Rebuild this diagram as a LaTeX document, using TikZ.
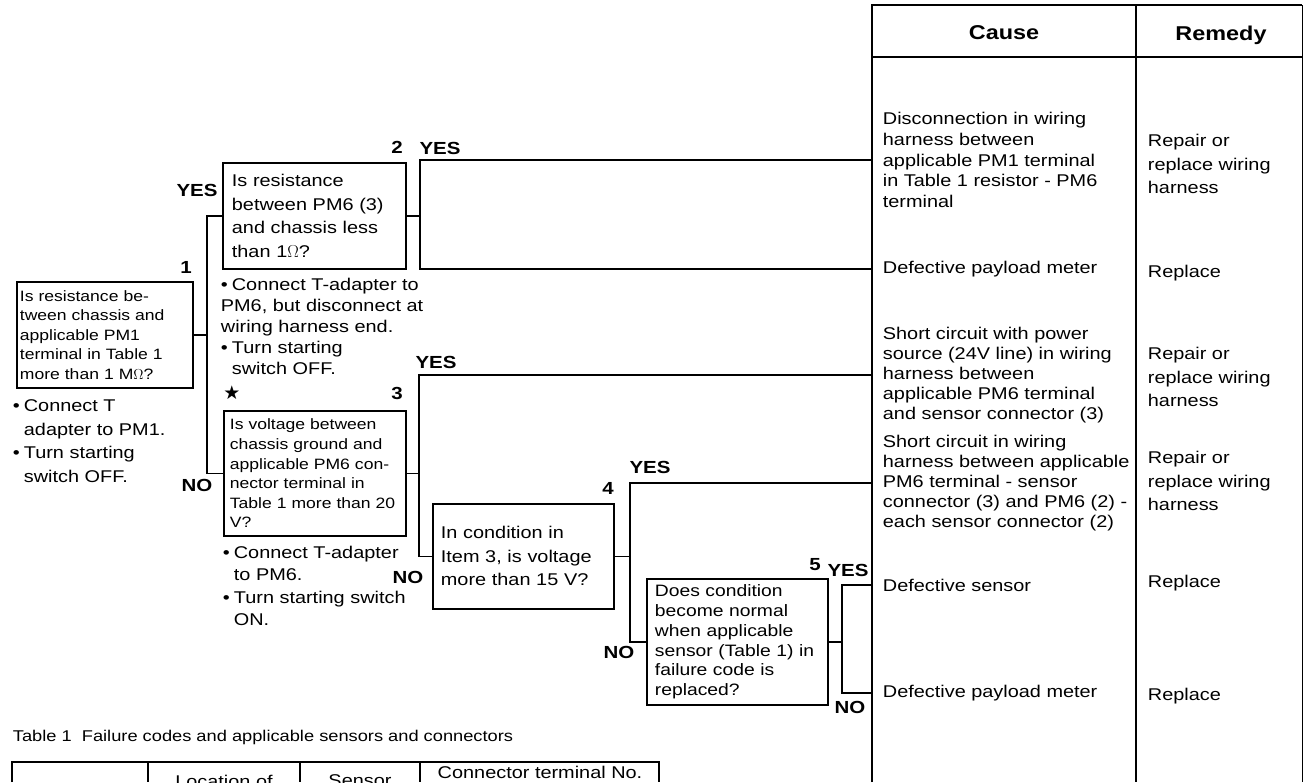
\documentclass[tikz,border=0pt]{standalone}
\usepackage{fontspec}
\setmainfont[FakeStretch=1.17]{Liberation Sans}
\newfontfamily\symbolfont{DejaVu Sans}
\usetikzlibrary{positioning}

% bullet of a hint line, and the indent of a wrapped hint line
\newcommand{\bitem}{\makebox[11pt][l]{\textbullet}}
\newcommand{\bcont}{\hspace*{11pt}}

\tikzset{
    check/.style={draw, anchor=north west, align=left, inner ysep=0pt, font=\fontsize{17}{23.5}\selectfont}, % the question boxes
    fine/.style={font=\fontsize{15}{19.6}\selectfont}, % boxes with the longer questions
    hint/.style={anchor=west, inner sep=0pt, align=left, font=\fontsize{17}{21.5}\selectfont}, % hints below the boxes
    cause/.style={anchor=west, inner xsep=10pt, inner ysep=0pt, align=left, font=\fontsize{17}{20.8}\selectfont}, % first column of the table
    remedy/.style={anchor=west, inner sep=0pt, align=left, font=\fontsize{17}{23.5}\selectfont}, % second column
    tag/.style={inner sep=0pt, font=\fontsize{17.5}{17.5}\selectfont\bfseries}, % YES, NO and step numbers
    head/.style={inner sep=0pt, font=\fontsize{20}{20}\selectfont\bfseries}, % column titles
}

\begin{document}
\begin{tikzpicture}[x=1pt, y=-1pt, line width=1.8pt]
\useasboundingbox (0,0) rectangle (1304,782);

% cause / remedy table
\draw (872,782) -- (872,5) -- (1302,5);
\draw (1136,5) -- (1136,782);
\draw[line width=1.3pt] (872,57) -- (1302,57);
\draw[line width=0.8pt] (1302,5) -- (1302,782);
\node[head] (hc) at (1004,33) {Cause};
\node[head] (hr) at (1221,35) {Remedy};

\node[cause] (c1) at (872,160) {Disconnection in wiring\\harness between\\applicable PM1 terminal\\in Table 1 resistor - PM6\\terminal};
\node[cause] (c2) at (872,269) {Defective payload meter};
\node[cause, font=\fontsize{17}{19.8}\selectfont] (c3) at (872,375) {Short circuit with power\\source (24V line) in wiring\\harness between\\applicable PM6 terminal\\and sensor connector (3)};
\node[cause, font=\fontsize{17}{19.8}\selectfont] (c4) at (872,483) {Short circuit in wiring\\harness between applicable\\PM6 terminal - sensor\\connector (3) and PM6 (2) -\\each sensor connector (2)};
\node[cause] (c5) at (872,585) {Defective sensor};
\node[cause] (c6) at (872,693) {Defective payload meter};

\node[remedy] (r1) at (1147,164) {Repair or\\replace wiring\\harness};
\node[remedy] (r2) at (1147,273) {Replace};
\node[remedy] (r3) at (1147,377) {Repair or\\replace wiring\\harness};
\node[remedy] (r4) at (1147,481) {Repair or\\replace wiring\\harness};
\node[remedy] (r5) at (1147,583) {Replace};
\node[remedy] (r6) at (1147,696) {Replace};

% checks
\node[check, fine, inner xsep=3pt, text width=170pt, minimum height=106pt] (q1) at (16,281) {Is resistance be-\\tween chassis and\\applicable PM1\\terminal in Table 1\\more than 1 M$\Omega$?};
\node[check, inner xsep=9pt, text width=165pt, minimum height=106pt] (q2) at (222,162) {Is resistance\\between PM6 (3)\\and chassis less\\than 1$\Omega$?};
\node[check, fine, inner xsep=6pt, text width=170pt, minimum height=125pt] (q3) at (223,410) {Is voltage between\\chassis ground and\\applicable PM6 con-\\nector terminal in\\Table 1 more than 20\\V?};
\node[check, inner xsep=8pt, text width=165pt, minimum height=105pt] (q4) at (432,503) {In condition in\\Item 3, is voltage\\more than 15 V?};
\node[check, font=\fontsize{16.5}{19.7}\selectfont, inner xsep=8pt, text width=165pt, minimum height=126pt] (q5) at (646,578) {Does condition\\become normal\\when applicable\\sensor (Table 1) in\\failure code is\\replaced?};

% hints
\node[hint, font=\fontsize{17}{23.5}\selectfont] (h1) at (12,441) {\bitem Connect T\\\bcont adapter to PM1.\\\bitem Turn starting\\\bcont switch OFF.};
\node[hint, font=\fontsize{17}{21}\selectfont] (h2) at (220,326) {\bitem Connect T-adapter to\\PM6, but disconnect at\\wiring harness end.\\\bitem Turn starting\\\bcont switch OFF.};
\node[hint, font=\fontsize{17}{22.3}\selectfont] (h3) at (222,586) {\bitem Connect T-adapter\\\bcont to PM6.\\\bitem Turn starting switch\\\bcont ON.};

% branch points
\coordinate[right=13pt of q1.east] (j1);
\coordinate[right=13pt of q2.east] (j2);
\coordinate[right=12pt of q3.east] (j3);
\coordinate[right=15pt of q4.east] (j4);
\coordinate[right=13pt of q5.east] (j5);

\draw (q1.east) -- (j1) |- (q2.west);
\draw (j1) |- (q3.west);
\draw (q2.east) -- (j2) |- (c1.west);
\draw (j2) |- (c2.west);
\draw (q3.east) -- (j3) |- (c3.west);
\draw (j3) |- (q4.west);
\draw (q4.east) -- (j4) |- (c4.west);
\draw (j4) |- (q5.west);
\draw (q5.east) -- (j5) |- (c5.west);
\draw (j5) |- (c6.west);

% step numbers and answers
\node[tag] (n1) at (186,267) {1};
\node[tag] (y1) at (197,190) {YES};
\node[tag] (no1) at (197,485) {NO};
\node[tag] (n2) at (397,147) {2};
\node[tag] (y2) at (440,148) {YES};
\node[tag] (y3) at (436,362) {YES};
\node[inner sep=0pt, font=\fontsize{19}{19}\symbolfont] (star) at (232,393) {★};
\node[tag] (n3) at (397,393) {3};
\node[tag] (no3) at (408,577) {NO};
\node[tag] (n4) at (608,488) {4};
\node[tag] (y4) at (650,467) {YES};
\node[tag] (no4) at (619,652) {NO};
\node[tag] (n5) at (815,565) {5};
\node[tag] (y5) at (848,570) {YES};
\node[tag] (no5) at (850,707) {NO};

% table 1
\node[hint, font=\fontsize{15.6}{15.6}\selectfont] (t1) at (12,737) {Table 1\ \ Failure codes and applicable sensors and connectors};
\draw[line width=1.2pt] (12,782) -- (12,762) -- (659,762) -- (659,782);
\draw[line width=1.2pt] (148,762) -- (148,782);
\draw[line width=1.2pt] (300,762) -- (300,782);
\draw[line width=1.2pt] (420,762) -- (420,782);
\node[hint, anchor=center] (tl) at (224,781) {Location of};
\node[hint, anchor=center] (ts) at (360,781) {Sensor};
\node[hint, anchor=center] (tc) at (540,772) {Connector terminal No.};

\end{tikzpicture}
\end{document}
